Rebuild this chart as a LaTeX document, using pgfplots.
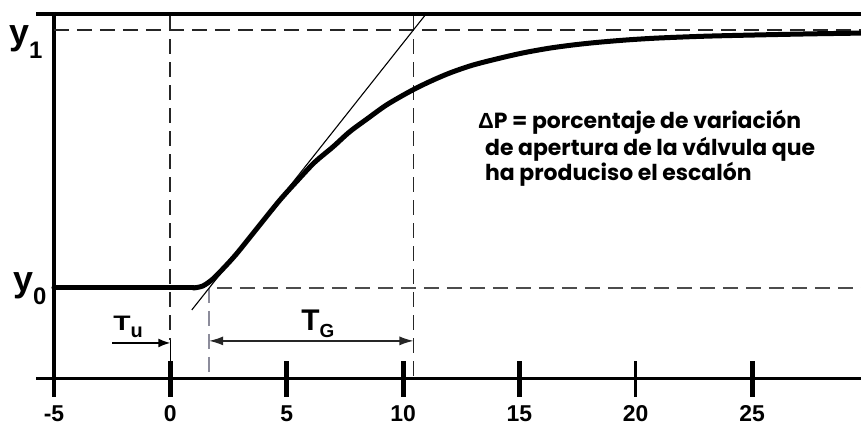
\documentclass[border=0pt]{standalone}
\usepackage{graphicx}
\usepackage{pgfplots}
\pgfplotsset{compat=1.18}
\usepackage{fontspec}
\setmainfont{Liberation Sans}
\newfontfamily\notefont{Poppins}
\usetikzlibrary{arrows.meta}

\definecolor{guidegrey}{RGB}{140,140,155}

\begin{document}
\begin{tikzpicture}
\begin{axis}[
  width=861bp, height=426bp, scale only axis,
  xmin=-7.318, xmax=29.68, ymin=-0.5349, ymax=1.1163,
  hide axis, clip=false,
  guide/.style={dash pattern=on 15bp off 8bp, line width=1.8bp},
]
% frame: top rule, left axis, time axis
\addplot[black, line width=4bp] coordinates {(-5.77,1.062) (29.68,1.062)};
\addplot[black, line width=4.5bp] coordinates {(-5,1.07) (-5,-0.4225)};
\addplot[black, line width=3bp] coordinates {(-5.77,-0.3527) (29.68,-0.3527)};

% time ticks
\addplot[black, line width=5bp] coordinates {(0,-0.283) (0,-0.4225)};
\addplot[black, line width=5bp] coordinates {(5,-0.283) (5,-0.4225)};
\addplot[black, line width=5bp] coordinates {(10,-0.283) (10,-0.4225)};
\addplot[black, line width=5bp] coordinates {(15,-0.283) (15,-0.4225)};
\addplot[black, line width=3bp] coordinates {(20,-0.283) (20,-0.4225)};
\addplot[black, line width=5bp] coordinates {(25,-0.283) (25,-0.4225)};

% guide lines
\addplot[guide, black!85] coordinates {(-5,1) (29.68,1)};
\addplot[guide, black!70] coordinates {(2.0,0) (29.68,0)};
\addplot[guide, black!85] coordinates {(0,1.054) (0,-0.2)};
\addplot[black, line width=1.2bp] coordinates {(0,-0.2) (0,-0.283)};
\addplot[guide, black!85] coordinates {(10.45,1.054) (10.45,-0.3527)};
\addplot[guide, guidegrey] coordinates {(1.67,0) (1.67,-0.3527)};

% tangent at the inflection point
\addplot[black, line width=1.1bp] coordinates {(0.924,-0.085) (10.99,1.062)};

% step response
\addplot[black, line width=5bp, line cap=round] coordinates {(-5,0) (1.0,0)};
\addplot[black, line width=5bp, line cap=round, smooth, tension=0.5] coordinates {
  (1.0,0) (1.4,0.008) (1.83,0.035) (2.3,0.078) (2.87,0.135) (3.85,0.245)
  (4.72,0.342) (5.5,0.42) (6.2,0.487) (6.99,0.547) (7.7,0.605) (8.45,0.655)
  (9.3,0.71) (10.3,0.762) (11.1,0.798) (12.0,0.833) (13.0,0.864) (14.17,0.891)
  (15.2,0.912) (16.32,0.930) (17.4,0.943) (18.47,0.953) (19.7,0.962)
  (21.0,0.969) (23.0,0.976) (25.3,0.981) (27.5,0.985) (29.68,0.988)};

% dead time and time constant arrows
\addplot[-{Latex[length=12bp,width=9bp]}, black, line width=1.5bp] coordinates {(-2.5,-0.213) (0,-0.213)};
\addplot[{Latex[length=14bp,width=9bp]}-{Latex[length=14bp,width=9bp]}, black!85, line width=1.3bp] coordinates {(1.67,-0.205) (10.45,-0.205)};

% level labels
\node[anchor=base west, inner sep=0] at (axis cs:-6.93,0.942)
  {\fontsize{36}{36}\selectfont\bfseries y\raisebox{-14bp}{\fontsize{24}{24}\selectfont 1}};
\node[anchor=base west, inner sep=0] at (axis cs:-6.76,-0.0155)
  {\fontsize{36}{36}\selectfont\bfseries y\raisebox{-13bp}{\fontsize{24}{24}\selectfont 0}};

% interval labels
\node[anchor=base west, inner sep=0] at (axis cs:-2.46,-0.163)
  {\fontsize{21}{21}\selectfont\bfseries\scalebox{1.35}[1]{T}\raisebox{-7bp}{\fontsize{20}{20}\selectfont u}};
\node[anchor=base west, inner sep=0] at (axis cs:5.62,-0.163)
  {\fontsize{30}{30}\selectfont\bfseries T\raisebox{-7bp}{\fontsize{19}{19}\selectfont G}};

% time tick labels
\node[anchor=base] at (axis cs:-5,-0.516) {\fontsize{23}{23}\selectfont\bfseries -5};
\node[anchor=base] at (axis cs:0,-0.516) {\fontsize{23}{23}\selectfont\bfseries 0};
\node[anchor=base] at (axis cs:5,-0.516) {\fontsize{23}{23}\selectfont\bfseries 5};
\node[anchor=base] at (axis cs:10,-0.516) {\fontsize{23}{23}\selectfont\bfseries 10};
\node[anchor=base] at (axis cs:15,-0.516) {\fontsize{23}{23}\selectfont\bfseries 15};
\node[anchor=base] at (axis cs:20,-0.516) {\fontsize{23}{23}\selectfont\bfseries 20};
\node[anchor=base] at (axis cs:25,-0.516) {\fontsize{23}{23}\selectfont\bfseries 25};

% note on the valve step
\node[anchor=base west, inner sep=0] at (axis cs:13.22,0.62)
  {\fontsize{22}{22}\selectfont{\bfseries Δ}{\notefont\bfseries P = porcentaje de variación}};
\node[anchor=base west, inner sep=0] at (axis cs:13.52,0.5155)
  {\fontsize{22}{22}\selectfont\notefont\bfseries de apertura de la válvula que};
\node[anchor=base west, inner sep=0] at (axis cs:13.52,0.4186)
  {\fontsize{22}{22}\selectfont\notefont\bfseries ha produciso el escalón};
\end{axis}
\pgfresetboundingbox
\useasboundingbox (current axis.south west) rectangle (current axis.north east);
\end{tikzpicture}
\end{document}
